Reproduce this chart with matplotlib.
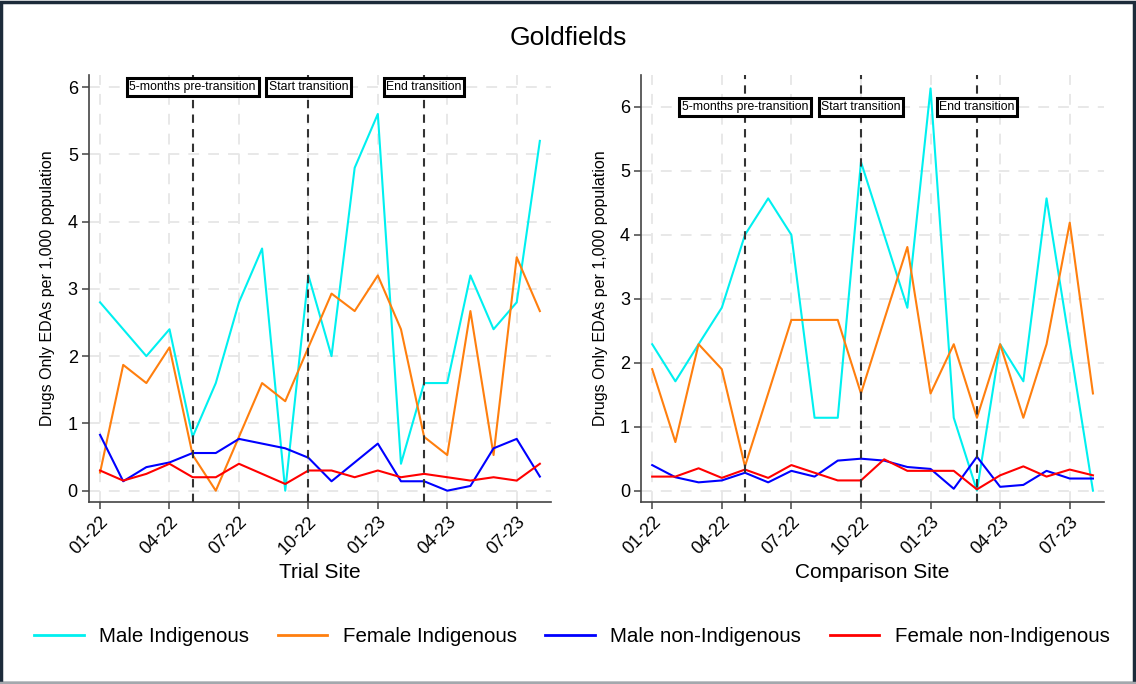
import matplotlib
matplotlib.use("Agg")
import matplotlib.pyplot as plt
from matplotlib.lines import Line2D

plt.rcParams['font.family'] = ['Liberation Sans', 'DejaVu Sans']

# monthly rates, Jan 2022 .. Aug 2023
months = list(range(20))
tick_pos = [0, 3, 6, 9, 12, 15, 18]
tick_labels = ["01-22", "04-22", "07-22", "10-22", "01-23", "04-23", "07-23"]

# Trial site
trial_male_ind = [2.8, 2.4, 2.0, 2.4, 0.8, 1.6, 2.8, 3.6, 0.0, 3.2,
                  2.0, 4.8, 5.6, 0.4, 1.6, 1.6, 3.2, 2.4, 2.8, 5.2]
trial_female_ind = [0.27, 1.87, 1.6, 2.13, 0.53, 0.0, 0.8, 1.6, 1.33, 2.13,
                    2.93, 2.67, 3.2, 2.4, 0.8, 0.53, 2.67, 0.53, 3.47, 2.67]
trial_male_non = [0.83, 0.14, 0.35, 0.42, 0.56, 0.56, 0.77, 0.70, 0.63, 0.49,
                  0.14, 0.42, 0.70, 0.14, 0.14, 0.0, 0.07, 0.63, 0.77, 0.21]
trial_female_non = [0.3, 0.15, 0.25, 0.4, 0.2, 0.2, 0.4, 0.25, 0.1, 0.3,
                    0.3, 0.2, 0.3, 0.2, 0.25, 0.2, 0.15, 0.2, 0.15, 0.4]

# Comparison site
comp_male_ind = [2.29, 1.71, 2.29, 2.86, 4.0, 4.57, 4.0, 1.14, 1.14, 5.14,
                 4.0, 2.86, 6.29, 1.14, 0.0, 2.29, 1.71, 4.57, 2.29, 0.0]
comp_female_ind = [1.9, 0.76, 2.29, 1.9, 0.38, 1.52, 2.67, 2.67, 2.67, 1.52,
                   2.67, 3.81, 1.52, 2.29, 1.14, 2.29, 1.14, 2.29, 4.19, 1.52]
comp_male_non = [0.4, 0.21, 0.13, 0.16, 0.28, 0.13, 0.31, 0.22, 0.47, 0.5,
                 0.47, 0.37, 0.34, 0.03, 0.53, 0.06, 0.09, 0.31, 0.19, 0.19]
comp_female_non = [0.22, 0.22, 0.35, 0.2, 0.33, 0.2, 0.4, 0.28, 0.16, 0.16,
                   0.49, 0.31, 0.31, 0.31, 0.02, 0.24, 0.38, 0.22, 0.33, 0.24]

series_names = ["Male Indigenous", "Female Indigenous", "Male non-Indigenous", "Female non-Indigenous"]
colors = ["#00f0f0", "#ff7f0e", "#0000ff", "#ff0000"]

# transition markers (month index) and their labels
event_pos = [4, 9, 14]
event_labels = ["5-months pre-transition", "Start transition", "End transition"]

fig = plt.figure(figsize=(11.36, 6.84), dpi=100)

panels = [
    ([0.0783, 0.2661, 0.4067, 0.6243], "Trial Site",
     [trial_male_ind, trial_female_ind, trial_male_non, trial_female_non], (-0.168, 6.18), -0.074),
    ([0.5643, 0.2661, 0.4076, 0.6243], "Comparison Site",
     [comp_male_ind, comp_female_ind, comp_male_non, comp_female_non], (-0.177, 6.5), -0.071),
]

for rect, xlabel, data, ylim, ylab_x in panels:
    ax = fig.add_axes(rect)
    ax.set_xlim(-0.48, 19.48)
    ax.set_ylim(*ylim)

    ax.set_xticks(tick_pos)
    ax.set_xticklabels(tick_labels, rotation=45, ha="right", rotation_mode="anchor")
    ax.set_yticks(range(7))
    ax.grid(True, color="#e6e6e6", linestyle=(0, (6, 5)), linewidth=1.3)
    ax.set_axisbelow(True)

    for vals, c in zip(data, colors):
        ax.plot(months, vals, color=c, linewidth=1.5, zorder=3)

    for xp, lab in zip(event_pos, event_labels):
        ax.axvline(xp, color="#333333", linestyle=(0, (4, 3)), linewidth=1.5, zorder=4)
        ax.text(xp, 6, lab, ha="center", va="center", fontsize=8.8, zorder=5,
                bbox=dict(boxstyle="square,pad=0.22", facecolor="white",
                          edgecolor="black", linewidth=2.2))

    for s in ["top", "right"]:
        ax.spines[s].set_visible(False)
    for s in ["left", "bottom"]:
        ax.spines[s].set_color("#444444")
        ax.spines[s].set_linewidth(1.2)
    ax.tick_params(direction="out", length=5, width=1.1, color="#444444",
                   labelsize=13, pad=3)

    ax.set_xlabel(xlabel, fontsize=15)
    ax.xaxis.set_label_coords(0.5, -0.142)
    ax.set_ylabel("Drugs Only EDAs per 1,000 population", fontsize=11.5)
    ax.yaxis.set_label_coords(ylab_x, 0.5)

fig.suptitle("Goldfields", fontsize=19, y=0.962)

handles = [Line2D([], [], color=c, linewidth=2) for c in colors]
fig.legend(handles, series_names, loc="center", bbox_to_anchor=(0.5035, 0.069),
           ncol=4, frameon=False, fontsize=14.8, handlelength=2.4,
           handletextpad=0.75, columnspacing=1.4)

# outer frame: dark on three sides, grey along the bottom
frame = plt.Rectangle((0.001, 0.002), 0.997, 0.995, transform=fig.transFigure,
                      fill=False, edgecolor="#1c2b3a", linewidth=2.5)
fig.add_artist(frame)
fig.add_artist(Line2D([0.0, 1.0], [0.002, 0.002], transform=fig.transFigure,
                      color="#a3a8ad", linewidth=2.5))

fig.savefig("out.png", dpi=100)
